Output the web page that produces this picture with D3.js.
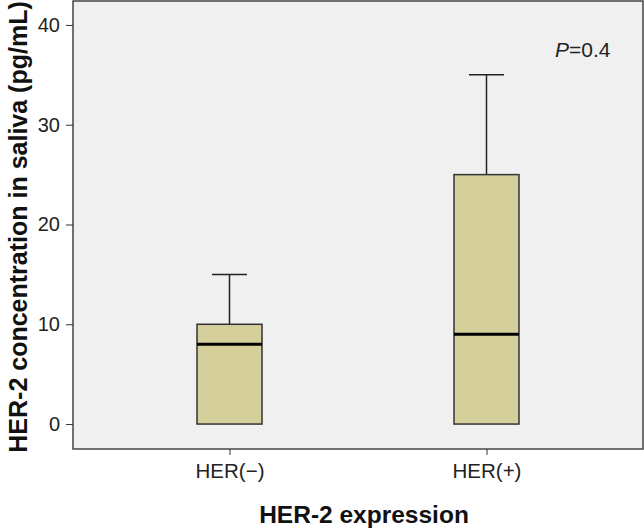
<!DOCTYPE html>
<html><head><meta charset="utf-8">
<script src="https://cdn.jsdelivr.net/npm/d3@7"></script>
<style>body{margin:0;background:#fff}svg{display:block}text{font-family:"Liberation Sans",Arial,sans-serif}</style>
</head><body>
<svg id="c" width="644" height="528"></svg>
<script>
const categories = ["HER(\u2212)", "HER(+)"];
const whiskerLow = [0, 0];
const q1 = [0, 0];
const median = [8, 9];
const q3 = [10, 25];
const whiskerHigh = [15, 35];
const yTicks = [0, 10, 20, 30, 40];
const annotation = "=0.4";

const svg = d3.select("#c");
const L = 73, R = 643, T = 1, B = 449;
const y = d3.scaleLinear().domain([-2.5, 42.4]).range([B, T]);
const x = d3.scalePoint().domain(categories).range([L, R]).padding(0.609);
const boxW = 65, capW = 35;

svg.append("rect").attr("x", L).attr("y", T).attr("width", R - L).attr("height", B - T)
  .attr("fill", "#f0f0f0").attr("stroke", "#444").attr("stroke-width", 1.5);

const yAxis = svg.append("g").attr("transform", `translate(${L},0)`)
  .call(d3.axisLeft(y).tickValues(yTicks).tickSize(7).tickPadding(6));
yAxis.select(".domain").remove();
yAxis.selectAll("line").attr("stroke", "#333");
yAxis.selectAll("text").attr("font-size", 20).attr("fill", "#222");

const xAxis = svg.append("g").attr("transform", `translate(0,${B})`)
  .call(d3.axisBottom(x).tickSize(6).tickPadding(8));
xAxis.select(".domain").remove();
xAxis.selectAll("line").attr("stroke", "#333");
xAxis.selectAll("text").attr("font-size", 20.5).attr("fill", "#222");

const data = categories.map((c, i) => ({c, lo: whiskerLow[i], q1: q1[i], med: median[i], q3: q3[i], hi: whiskerHigh[i]}));
const g = svg.selectAll(".box").data(data).enter().append("g");
g.append("line").attr("x1", d => x(d.c)).attr("x2", d => x(d.c))
  .attr("y1", d => y(d.q3)).attr("y2", d => y(d.hi)).attr("stroke", "#222").attr("stroke-width", 1.5);
g.append("line").attr("x1", d => x(d.c) - capW / 2).attr("x2", d => x(d.c) + capW / 2)
  .attr("y1", d => y(d.hi)).attr("y2", d => y(d.hi)).attr("stroke", "#222").attr("stroke-width", 1.5);
g.append("rect").attr("x", d => x(d.c) - boxW / 2).attr("width", boxW)
  .attr("y", d => y(d.q3)).attr("height", d => y(d.q1) - y(d.q3))
  .attr("fill", "#d4cf9b").attr("stroke", "#333").attr("stroke-width", 1.5);
g.append("line").attr("x1", d => x(d.c) - boxW / 2).attr("x2", d => x(d.c) + boxW / 2)
  .attr("y1", d => y(d.med)).attr("y2", d => y(d.med)).attr("stroke", "#000").attr("stroke-width", 3);

const t = svg.append("text").attr("x", 555).attr("y", 57).attr("font-size", 21).attr("fill", "#222");
t.append("tspan").attr("font-style", "italic").text("P");
t.append("tspan").text(annotation);

svg.append("text").attr("transform", `translate(27,227) rotate(-90)`)
  .attr("text-anchor", "middle").attr("font-size", 25).attr("font-weight", "bold").attr("fill", "#111")
  .text("HER-2 concentration in saliva (pg/mL)");
svg.append("text").attr("x", 364).attr("y", 523).attr("text-anchor", "middle")
  .attr("font-size", 24.5).attr("font-weight", "bold").attr("fill", "#111").text("HER-2 expression");
</script>
</body></html>
